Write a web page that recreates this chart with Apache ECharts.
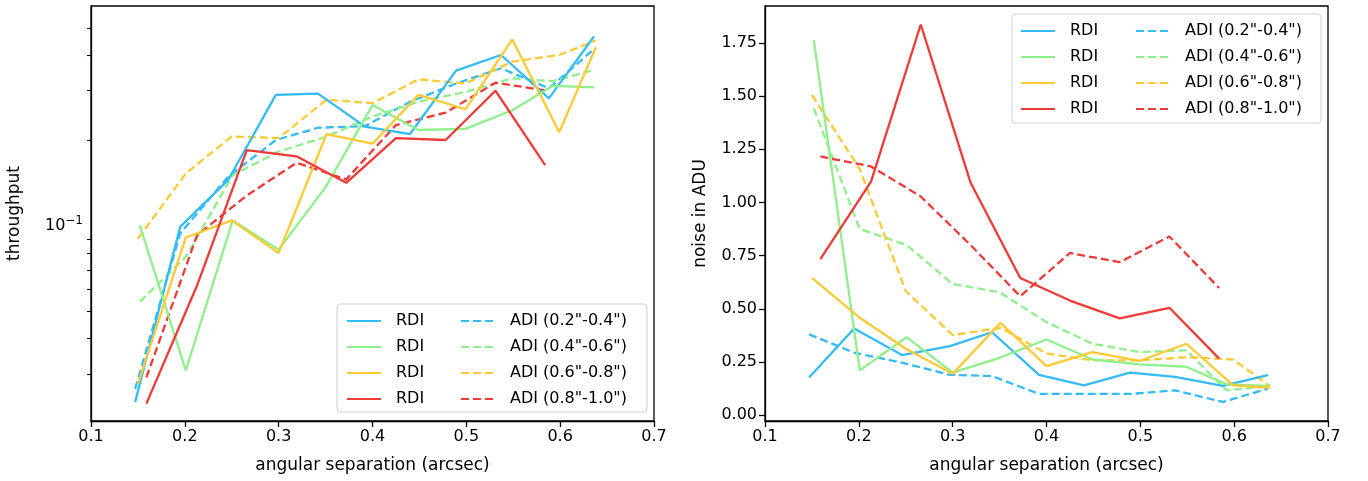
<!DOCTYPE html>
<html>
<head>
<meta charset="utf-8">
<script src="https://cdn.jsdelivr.net/npm/echarts@6/dist/echarts.min.js"></script>
<style>html,body{margin:0;padding:0;background:#fff}#chart{width:1368px;height:481px}</style>
</head>
<body>
<div id="chart"></div>
<script>
// separations of each bin (arcsec)
var xBlue = [0.147, 0.195, 0.246, 0.297, 0.342, 0.392, 0.440, 0.489, 0.537, 0.588, 0.636];
var xGreen = [0.152, 0.201, 0.251, 0.300, 0.350, 0.400, 0.449, 0.499, 0.549, 0.592, 0.636];
var xYellow = [0.150, 0.201, 0.250, 0.300, 0.351, 0.400, 0.449, 0.499, 0.549, 0.599, 0.638];
var xRed = [0.159, 0.213, 0.266, 0.319, 0.372, 0.425, 0.478, 0.531, 0.584];

// throughput (left panel)
var tpRdiBlue = [0.0239, 0.0992, 0.145, 0.290, 0.293, 0.224, 0.211, 0.353, 0.401, 0.282, 0.466];
var tpAdiBlue = [0.0266, 0.094, 0.149, 0.201, 0.222, 0.225, 0.274, 0.318, 0.360, 0.306, 0.420];
var tpRdiGreen = [0.1005, 0.0309, 0.1046, 0.0825, 0.137, 0.267, 0.218, 0.220, 0.256, 0.312, 0.308];
var tpAdiGreen = [0.054, 0.0777, 0.151, 0.183, 0.206, 0.243, 0.274, 0.297, 0.332, 0.324, 0.355];
var tpRdiYellow = [0.0277, 0.091, 0.1046, 0.0803, 0.211, 0.195, 0.290, 0.258, 0.455, 0.214, 0.427];
var tpAdiYellow = [0.0902, 0.153, 0.207, 0.204, 0.279, 0.271, 0.329, 0.318, 0.380, 0.401, 0.451];
var tpRdiRed = [0.0236, 0.0616, 0.185, 0.176, 0.142, 0.204, 0.201, 0.300, 0.164];
var tpAdiRed = [0.0292, 0.0927, 0.128, 0.167, 0.146, 0.227, 0.251, 0.320, 0.301];

// noise (right panel)
var nzRdiBlue = [0.177, 0.408, 0.283, 0.325, 0.39, 0.19, 0.14, 0.20, 0.18, 0.138, 0.188];
var nzAdiBlue = [0.38, 0.294, 0.247, 0.19, 0.184, 0.10, 0.10, 0.10, 0.117, 0.0625, 0.125];
var nzRdiGreen = [1.7625, 0.211, 0.367, 0.2, 0.27, 0.356, 0.262, 0.239, 0.228, 0.145, 0.1375];
var nzAdiGreen = [1.442, 0.875, 0.80, 0.617, 0.578, 0.4375, 0.336, 0.297, 0.305, 0.117, 0.1375];
var nzRdiYellow = [0.645, 0.458, 0.3125, 0.195, 0.434, 0.231, 0.297, 0.255, 0.336, 0.14, 0.13];
var nzAdiYellow = [1.505, 1.156, 0.583, 0.377, 0.411, 0.29, 0.258, 0.258, 0.273, 0.262, 0.1375];
var nzRdiRed = [0.734, 1.098, 1.836, 1.094, 0.645, 0.539, 0.455, 0.505, 0.266];
var nzAdiRed = [1.216, 1.169, 1.028, 0.80, 0.559, 0.7625, 0.719, 0.84, 0.598];

var logMinor = [0.03, 0.04, 0.05, 0.06, 0.07, 0.08, 0.09, 0.2, 0.3, 0.4, 0.5];
var noiseTicks = [0, 0.25, 0.5, 0.75, 1.0, 1.25, 1.5, 1.75];
var adiNames = ['ADI (0.2"-0.4")', 'ADI (0.4"-0.6")', 'ADI (0.6"-0.8")', 'ADI (0.8"-1.0")'];
var rdiNames = ['RDI', 'RDI ', 'RDI  ', 'RDI   '];
var colors = ['#33bbf5', '#8ef08a', '#ffc933', '#ef3a36'];

var font = 'DejaVu Sans';
var xsList = [xBlue, xGreen, xYellow, xRed];
var tpRdi = [tpRdiBlue, tpRdiGreen, tpRdiYellow, tpRdiRed];
var tpAdi = [tpAdiBlue, tpAdiGreen, tpAdiYellow, tpAdiRed];
var nzRdi = [nzRdiBlue, nzRdiGreen, nzRdiYellow, nzRdiRed];
var nzAdi = [nzAdiBlue, nzAdiGreen, nzAdiYellow, nzAdiRed];

function pairs(xs, ys) {
    return ys.map(function (v, i) { return [xs[i], v]; });
}

var series = [];
function addSeries(idx, rdi, adi) {
    for (var i = 0; i < 4; i++) {
        series.push({
            name: rdiNames[i], type: 'line', xAxisIndex: idx, yAxisIndex: idx,
            data: pairs(xsList[i], rdi[i]), symbol: 'none', color: colors[i],
            lineStyle: {width: 2.3, color: colors[i]}, z: 3
        });
    }
    for (var j = 0; j < 4; j++) {
        series.push({
            name: adiNames[j], type: 'line', xAxisIndex: idx, yAxisIndex: idx,
            data: pairs(xsList[j], adi[j]), symbol: 'none', color: colors[j],
            lineStyle: {width: 2.3, type: [8, 4], color: colors[j]}, z: 2
        });
    }
}
addSeries(0, tpRdi, tpAdi);
addSeries(1, nzRdi, nzAdi);

function xAxis(idx) {
    return {
        gridIndex: idx, type: 'value', min: 0.1, max: 0.7, interval: 0.1,
        name: 'angular separation (arcsec)', nameLocation: 'middle', nameGap: 36,
        nameTextStyle: {fontFamily: font, fontSize: 17, color: '#000'},
        axisLine: {onZero: false, lineStyle: {color: '#000', width: 1.3}},
        axisTick: {length: 6, lineStyle: {color: '#000', width: 1.3}},
        axisLabel: {fontFamily: font, fontSize: 16, color: '#000', margin: 8,
            formatter: function (v) { return v.toFixed(1); }},
        splitLine: {show: false}
    };
}

function legend(left, top, names) {
    return {
        orient: 'vertical', left: left, top: top, itemGap: 10, itemWidth: 34, itemHeight: 19,
        data: names, selectedMode: false,
        itemStyle: {opacity: 0},
        formatter: function (n) { return n.indexOf('RDI') === 0 ? 'RDI' : n; },
        textStyle: {fontFamily: font, fontSize: 16, color: '#000', padding: [0, 0, 0, 10]}
    };
}

var option = {
    animation: false,
    grid: [
        {left: 91, right: 714, top: 6, bottom: 60, show: true, borderColor: '#000', borderWidth: 1.3},
        {left: 765, right: 40, top: 6, bottom: 60, show: true, borderColor: '#000', borderWidth: 1.3}
    ],
    xAxis: [xAxis(0), xAxis(1)],
    yAxis: [
        {
            gridIndex: 0, type: 'log', logBase: 10, min: 0.0205, max: 0.597,
            name: 'throughput', nameLocation: 'middle', nameGap: 68,
            nameTextStyle: {fontFamily: font, fontSize: 17, color: '#000'},
            axisLine: {lineStyle: {color: '#000', width: 1.3}},
            axisTick: {length: 4, customValues: logMinor, lineStyle: {color: '#000', width: 1.1}},
            axisLabel: {fontFamily: font, fontSize: 16, color: '#000', customValues: [0.1],
                formatter: function () { return '10{s|\u22121}'; },
                rich: {s: {fontSize: 12, verticalAlign: 'top', padding: [0, 0, 10, 0], fontFamily: font, color: '#000'}}},
            splitLine: {show: false}
        },
        {
            gridIndex: 1, type: 'value', min: -0.027, max: 1.923,
            name: 'noise in ADU', nameLocation: 'middle', nameGap: 56,
            nameTextStyle: {fontFamily: font, fontSize: 17, color: '#000'},
            axisLine: {onZero: false, lineStyle: {color: '#000', width: 1.3}},
            axisTick: {length: 6, customValues: noiseTicks, lineStyle: {color: '#000', width: 1.3}},
            axisLabel: {fontFamily: font, fontSize: 16, color: '#000', customValues: noiseTicks,
                formatter: function (v) { return v.toFixed(2); }},
            splitLine: {show: false}
        }
    ],
    legend: [
        legend(341, 308, rdiNames), legend(455, 308, adiNames),
        legend(1015, 18, rdiNames), legend(1130, 18, adiNames)
    ],
    graphic: [
        {type: 'rect', shape: {x: 337, y: 304, width: 310, height: 108, r: 3},
            style: {fill: 'rgba(255,255,255,0.8)', stroke: '#d0d0d0', lineWidth: 1}, z: 4},
        {type: 'rect', shape: {x: 1012, y: 14, width: 309, height: 109, r: 3},
            style: {fill: 'rgba(255,255,255,0.8)', stroke: '#d0d0d0', lineWidth: 1}, z: 4}
    ],
    series: series
};

var chart = echarts.init(document.getElementById('chart'));
chart.setOption(option);
</script>
</body>
</html>
